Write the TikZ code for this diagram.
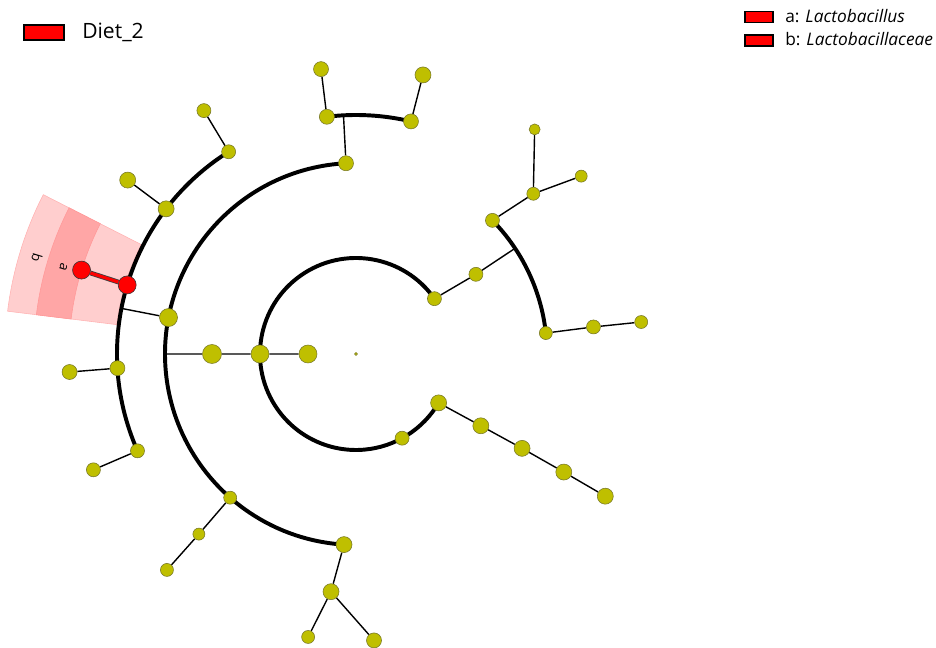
\documentclass[tikz,border=0pt]{standalone}
\usepackage{fontspec}
\setmainfont{Open Sans}
\usetikzlibrary{backgrounds}
\definecolor{cladeyellow}{RGB}{191,191,0}
\definecolor{cladeedge}{RGB}{120,120,40}
\definecolor{shadelight}{RGB}{255,206,206}
\definecolor{shadedark}{RGB}{255,166,166}

\begin{document}
\begin{tikzpicture}[x=0.25mm,y=0.25mm,
  clade/.style={circle,draw=cladeedge,fill=cladeyellow,line width=0.4pt,
                inner sep=0pt,minimum size=#1*0.5mm},
  biomark/.style={clade=#1,draw=black!80,fill=red},
  ring/.style={line width=2.8pt},
  twig/.style={line width=1pt},
  keybox/.style={draw=black,fill=red,line width=0.8pt,inner sep=0pt},
  keytext/.style={anchor=base west,inner sep=0pt}]
  \useasboundingbox (-356,-294) rectangle (580,354);
  % root and kingdom
  \node[clade=1.5] (root) at (0,0) {};
  \node[clade=9] (k) at (180:48) {};
  % phyla
  \node[clade=9] (p1) at (180:96) {};
  \node[clade=7] (p2) at (35.2:96) {};
  \node[clade=7] (p3) at (298.7:96) {};
  \node[clade=8] (p4) at (329.4:96) {};
  % classes
  \node[clade=9.5] (c1) at (180:144) {};
  \node[clade=7] (c2) at (33.6:144) {};
  \node[clade=8] (c3) at (330.1:144) {};
  % orders
  \node[clade=7.5] (o1) at (93:191) {};
  \node[clade=9] (o2) at (169:191) {};
  \node[clade=6.5] (o3) at (228.8:191) {};
  \node[clade=8] (o4) at (266.4:191) {};
  \node[clade=7] (o5) at (44.4:191) {};
  \node[clade=6.5] (o6) at (6.3:191) {};
  \node[clade=8] (o7) at (330.4:191) {};
  % families
  \node[clade=7.5] (f1) at (97:239) {};
  \node[clade=7.5] (f2) at (76.7:239) {};
  \node[clade=7] (f3) at (122.2:239) {};
  \node[clade=8] (f4) at (142.6:239) {};
  \node[biomark=9] (f5) at (163.2:239) {};
  \node[clade=7.5] (f6) at (183.4:239) {};
  \node[clade=7] (f7) at (203.9:239) {};
  \node[clade=6] (f8) at (228.9:239) {};
  \node[clade=8] (f9) at (264:239) {};
  \node[clade=6.5] (f10) at (42.1:239) {};
  \node[clade=7] (f11) at (6.5:239) {};
  \node[clade=8] (f12) at (330.4:239) {};
  % genera
  \node[clade=7.5] (g1) at (97:287) {};
  \node[clade=8] (g2) at (76.5:287) {};
  \node[clade=7] (g3) at (122:287) {};
  \node[clade=8] (g4) at (142.7:287) {};
  \node[biomark=9] (g5) at (163:287) {};
  \node[clade=7.5] (g6) at (183.6:287) {};
  \node[clade=7] (g7) at (203.8:287) {};
  \node[clade=6.5] (g8) at (228.8:287) {};
  \node[clade=6.5] (g9) at (260.4:287) {};
  \node[clade=7.5] (g10) at (273.6:287) {};
  \node[clade=5.5] (g11) at (51.5:287) {};
  \node[clade=6] (g12) at (38.3:287) {};
  \node[clade=6.5] (g13) at (6.4:287) {};
  \node[clade=8] (g14) at (330.3:287) {};
  % joints on the rings
  \coordinate (jc1) at (180:191);
  \coordinate (jc2) at (33.6:191);
  \coordinate (jo1) at (93:239);
  \coordinate (jo2) at (169:239);
  % clade labels
  \node[rotate=-107,font=\fontsize{9.5}{9.5}\selectfont] (lbb) at (163.3:333) {b};
  \node[rotate=-107,font=\fontsize{9.5}{9.5}\selectfont] (lba) at (163.5:305) {a};

  \begin{pgfonlayer}{background}
    \fill[shadelight,draw=red!30] (153:241) arc[start angle=153,end angle=173,radius=241]
      -- (173:351) arc[start angle=173,end angle=153,radius=351] -- cycle;
    \fill[shadedark,draw=red!40] (153:287) arc[start angle=153,end angle=173,radius=287]
      -- (173:322) arc[start angle=173,end angle=153,radius=322] -- cycle;
    \draw[ring] (35.2:96) arc[start angle=35.2,end angle=329.4,radius=96];
    \draw[ring] (93:191) arc[start angle=93,end angle=266.4,radius=191];
    \draw[ring] (6.3:191) arc[start angle=6.3,end angle=44.4,radius=191];
    \draw[ring] (122.2:239) arc[start angle=122.2,end angle=203.9,radius=239];
    \draw[ring] (76.7:239) arc[start angle=76.7,end angle=97,radius=239];
    \draw[twig] (k) -- (p1) (p1) -- (c1) (c1) -- (jc1)
      (p2) -- (c2) (c2) -- (jc2)
      (p4) -- (c3) -- (o7) -- (f12) -- (g14)
      (o1) -- (jo1) (o2) -- (jo2)
      (o3) -- (f8) -- (g8)
      (o4) -- (f9) (f9) -- (g9) (f9) -- (g10)
      (o5) -- (f10) (f10) -- (g11) (f10) -- (g12)
      (o6) -- (f11) -- (g13)
      (f1) -- (g1) (f2) -- (g2) (f3) -- (g3) (f4) -- (g4)
      (f6) -- (g6) (f7) -- (g7);
    \draw[line width=3.4pt,black!75] (f5) -- (g5);
    \draw[line width=2.2pt,red] (f5) -- (g5);
  \end{pgfonlayer}

  % legends
  \node[keybox,minimum width=10mm,minimum height=3.75mm] (dietkey) at (-312,321.5) {};
  \node[keytext,font=\fontsize{15}{15}\selectfont] (diettext) at (-274,315) {Diet\_2};
  \node[keybox,minimum width=7mm,minimum height=2.75mm] (keya) at (403,337) {};
  \node[keytext,font=\fontsize{12.3}{12.3}\selectfont] (texta) at (429,331) {a: \textit{Lactobacillus}};
  \node[keybox,minimum width=7mm,minimum height=2.75mm] (keyb) at (403,313.5) {};
  \node[keytext,font=\fontsize{12.3}{12.3}\selectfont] (textb) at (429,308) {b: \textit{Lactobacillaceae}};
\end{tikzpicture}
\end{document}
